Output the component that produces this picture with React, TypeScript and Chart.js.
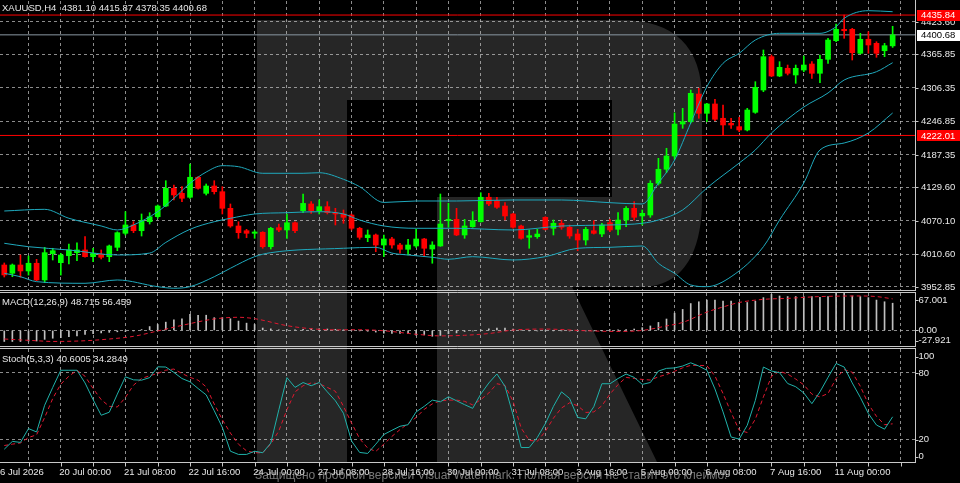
import React, { useEffect, useRef } from 'react';
import { Chart, registerables } from 'chart.js';

Chart.register(...registerables);

// XAUUSD H4 candles, one value per bar (bar 0 = 16 Jul 2026 20:00)
const opens = [
  3991.9, 3977.2, 3991.9, 3981.3, 3995.0, 3965.3, 4012.0, 3996.0, 4008.4, 4013.8,
  4018.6, 4006.7, 4011.0, 4006.7, 4023.3, 4048.2, 4063.0, 4052.8, 4068.8, 4077.7,
  4096.7, 4128.1, 4119.2, 4112.2, 4147.7, 4119.2, 4132.2, 4122.1, 4092.6, 4061.2,
  4052.8, 4048.2, 4050.0, 4024.4, 4058.2, 4054.1, 4067.0, 4088.4, 4100.3, 4088.4,
  4095.5, 4084.8, 4082.5, 4080.7, 4057.1, 4040.4, 4045.2, 4027.4, 4038.1, 4027.4,
  4019.8, 4025.7, 4038.1, 4020.3, 4025.7, 4070.6, 4073.0, 4045.2, 4059.9, 4068.8,
  4112.2, 4106.1, 4096.7, 4082.5, 4061.2, 4041.1, 4042.2, 4076.6, 4057.1, 4066.0,
  4058.9, 4047.0, 4036.3, 4052.8, 4047.0, 4067.0, 4055.3, 4071.8, 4092.6, 4079.0,
  4080.7, 4137.0, 4161.9, 4185.5, 4242.3, 4246.4, 4295.6, 4261.3, 4277.9, 4252.5,
  4243.6, 4237.6, 4231.7, 4263.1, 4302.7, 4361.9, 4327.6, 4341.3, 4329.4, 4338.2,
  4348.9, 4332.4, 4357.2, 4390.3, 4410.5, 4410.5, 4367.9, 4392.8, 4385.6, 4372.5, 4381.10,
];
const highs = [
  3995.5, 3993.7, 4009.7, 4007.9, 4002.0, 4023.3, 4021.6, 4012.7, 4029.2, 4031.5,
  4042.2, 4021.6, 4018.6, 4027.4, 4051.0, 4086.6, 4068.8, 4082.5, 4084.8, 4098.5,
  4141.6, 4134.0, 4131.0, 4171.3, 4148.8, 4135.8, 4141.6, 4131.0, 4100.3, 4068.8,
  4055.3, 4052.8, 4051.0, 4058.9, 4064.7, 4082.5, 4068.8, 4118.0, 4104.4, 4107.4,
  4104.4, 4092.6, 4089.6, 4082.5, 4058.9, 4054.1, 4047.0, 4045.2, 4041.1, 4030.4,
  4037.6, 4055.3, 4039.3, 4033.3, 4118.0, 4101.5, 4092.6, 4073.0, 4086.6, 4120.3,
  4119.3, 4112.2, 4102.6, 4083.7, 4063.0, 4054.1, 4055.3, 4077.7, 4071.8, 4071.8,
  4063.0, 4055.3, 4058.9, 4070.6, 4066.0, 4073.0, 4084.8, 4095.5, 4104.4, 4089.6,
  4141.6, 4181.4, 4199.2, 4262.0, 4270.2, 4302.7, 4305.7, 4279.1, 4286.2, 4276.0,
  4252.5, 4254.2, 4270.2, 4317.5, 4373.8, 4364.9, 4353.0, 4347.1, 4347.1, 4363.0,
  4353.0, 4364.9, 4394.5, 4419.9, 4435.84, 4412.3, 4403.4, 4406.3, 4388.5, 4385.6, 4415.87,
];
const lows = [
  3970.6, 3971.1, 3970.1, 3974.0, 3964.0, 3960.5, 4000.8, 3974.0, 3993.7, 3999.6,
  4005.6, 3997.8, 4002.6, 3997.8, 4017.3, 4045.2, 4049.3, 4043.4, 4064.7, 4074.9,
  4095.4, 4107.4, 4104.4, 4110.0, 4126.4, 4116.2, 4118.0, 4082.5, 4058.9, 4039.3,
  4040.4, 4039.3, 4021.6, 4020.3, 4051.0, 4039.3, 4049.3, 4084.8, 4083.7, 4082.5,
  4082.5, 4063.0, 4066.0, 4054.1, 4037.6, 4033.3, 4015.5, 4006.7, 4021.6, 4012.7,
  4009.7, 4023.3, 4007.9, 3995.0, 4025.0, 4058.9, 4044.0, 4039.3, 4058.9, 4068.0,
  4097.2, 4092.6, 4071.8, 4057.1, 4037.6, 4021.6, 4039.3, 4054.1, 4045.2, 4055.3,
  4039.3, 4017.3, 4027.4, 4046.9, 4042.2, 4051.0, 4045.2, 4059.9, 4071.8, 4063.0,
  4076.6, 4134.0, 4155.8, 4180.0, 4234.7, 4244.0, 4252.5, 4246.4, 4248.2, 4222.01,
  4234.7, 4228.7, 4230.0, 4261.3, 4299.7, 4326.4, 4326.4, 4329.4, 4314.6, 4335.2,
  4323.5, 4315.7, 4350.1, 4388.5, 4394.5, 4356.0, 4366.7, 4367.9, 4360.8, 4361.9, 4378.35,
];
const closes = [
  3974.2, 3991.9, 3981.3, 3995.0, 3965.3, 4013.8, 4017.3, 4009.7, 4018.6, 4018.6,
  4006.7, 4012.7, 4005.6, 4025.7, 4049.3, 4063.0, 4052.8, 4070.6, 4077.7, 4096.7,
  4128.1, 4116.3, 4110.4, 4147.7, 4128.1, 4132.2, 4122.1, 4092.6, 4061.2, 4049.3,
  4048.2, 4050.5, 4024.4, 4057.1, 4054.1, 4067.0, 4052.8, 4101.3, 4088.4, 4095.5,
  4084.8, 4082.5, 4076.6, 4057.1, 4041.1, 4045.2, 4027.4, 4038.1, 4027.4, 4019.8,
  4027.4, 4038.1, 4021.6, 4027.4, 4064.7, 4073.0, 4045.2, 4061.2, 4070.6, 4112.2,
  4100.3, 4094.4, 4079.0, 4058.9, 4039.3, 4044.0, 4046.9, 4055.3, 4066.0, 4058.9,
  4043.4, 4036.3, 4055.3, 4048.2, 4063.0, 4054.1, 4071.8, 4092.6, 4076.6, 4083.7,
  4137.0, 4161.9, 4185.5, 4242.3, 4246.4, 4296.8, 4261.3, 4277.9, 4250.7, 4240.6,
  4240.6, 4231.7, 4267.2, 4307.5, 4361.9, 4327.6, 4343.0, 4332.4, 4341.3, 4347.1,
  4332.4, 4357.2, 4391.5, 4410.5, 4408.0, 4369.0, 4392.8, 4382.7, 4367.9, 4381.4, 4400.68,
];

// Bollinger bands, read at the listed bar positions
const upperIdx = [0, 5, 8, 12, 14, 16, 19, 21, 23, 25, 27, 29, 32, 37, 39, 42, 44, 47, 51, 56, 63, 69, 75, 79, 81, 83, 85, 87, 89, 91, 93, 96, 99, 101, 103, 104, 107, 110];
const upperBand = [4087.8, 4090.8, 4074.9, 4061.2, 4054.1, 4063.0, 4086.6, 4110.4, 4137.0, 4157.0, 4168.3, 4166.5, 4154.8, 4154.8, 4155.8, 4144.1, 4131.0, 4103.0, 4105.6, 4105.6, 4107.4, 4107.4, 4102.6, 4100.3, 4137.6, 4178.4, 4244.1, 4308.6, 4350.1, 4367.9, 4391.5, 4403.4, 4403.4, 4403.4, 4415.2, 4430.1, 4443.6, 4441.8];
const middleIdx = [0, 3, 8, 14, 18, 20, 23, 26, 28, 31, 35, 39, 42, 44, 47, 51, 56, 63, 69, 75, 79, 81, 84, 87, 91, 93, 95, 99, 102, 104, 108, 110];
const middleBand = [4030.5, 4024.4, 4018.6, 4009.7, 4013.0, 4032.0, 4055.3, 4068.8, 4074.8, 4082.5, 4084.8, 4086.6, 4082.5, 4071.8, 4061.2, 4057.1, 4057.1, 4054.1, 4061.2, 4063.0, 4066.0, 4071.8, 4089.6, 4128.7, 4173.0, 4196.2, 4226.4, 4272.5, 4297.4, 4320.5, 4335.2, 4351.2];
const lowerIdx = [0, 2, 4, 10, 14, 19, 21, 23, 26, 28, 31, 33, 42, 46, 48, 50, 53, 55, 58, 63, 67, 71, 75, 79, 81, 83, 85, 87, 90, 94, 96, 99, 101, 104, 107, 110];
const lowerBand = [3977.2, 3971.1, 3962.3, 3959.4, 3965.3, 3953.4, 3950.6, 3953.4, 3971.1, 3986.1, 4006.7, 4013.8, 4021.6, 4023.3, 4013.0, 4009.7, 4005.6, 4002.1, 4006.7, 4000.8, 4006.7, 4021.6, 4023.3, 4025.7, 3994.9, 3977.2, 3956.4, 3953.4, 3971.1, 4024.4, 4071.8, 4137.6, 4196.2, 4208.6, 4226.4, 4261.9];

// MACD(12,26,9): main per bar, signal at listed bars
const macdMain = [
  -19.8, -19.8, -19.8, -19, -19, -16, -14, -13, -11, -10,
  -7, -6, -4.5, -3.5, -2.5, -2, -1, 1.5, 6.9, 10.6,
  14.8, 19, 20.9, 29, 27.2, 27.2, 22.8, 22.8, 20.9, 16.7,
  13, 10.6, 4.3, 2.8, 1, 1.5, 1, 2, 3, 3,
  2.5, 2, 1, 0.3, -0.5, -1.5, -3, -5, -5.5, -5.5,
  -6, -8.6, -8, -10.5, -9, -6, -4.5, -2, -1, 1,
  3, 4, 4, 2.5, 0.5, -0.5, -1, -0.5, -0.5, -0.5,
  -1, -1.5, -1, -1, -0.5, 0.3, 0.5, 1.5, 2.5, 5,
  8, 14.3, 20.4, 30.9, 37.6, 48.1, 51.3, 54.3, 54.3, 52.4,
  52.4, 50, 50, 52.4, 58.7, 64.5, 61.7, 60.6, 60.6, 60.6,
  60.6, 59.3, 60.6, 66.2, 67.0, 61.7, 60.6, 58.7, 54.3, 51.3, 48.715,
];
const macdSignalIdx = [0, 4, 6, 10, 13, 16, 19, 22, 26, 29, 31, 35, 38, 41, 44, 47, 51, 54, 57, 60, 63, 67, 72, 76, 79, 82, 84, 87, 89, 91, 94, 97, 101, 106, 108, 110];
const macdSignal = [-15.4, -18.5, -19.8, -18.5, -15.4, -10.6, -1, 9, 20.5, 23.5, 21, 8.5, 3, 1, 1.2, -0.6, -6.9, -9.8, -8.7, -5.6, 0.6, 2.4, -0.6, -1.9, 0, 8, 14.3, 32.8, 42, 50, 55.6, 57.4, 60.6, 61.7, 60.6, 56.459];

// Stochastic(5,3,3) per bar
const stochMain = [
  11.5, 18.5, 17.6, 30, 27, 51, 67, 82.4, 82.4, 82.4,
  71, 56, 42, 44.7, 61, 76.5, 73.8, 73.5, 75.8, 85.5,
  85.3, 80.5, 75, 72, 66, 60.3, 46, 31, 9.7, 6.8,
  6.8, 9.7, 8.3, 17, 47, 75.8, 67, 71.4, 68.5, 71.4,
  63, 55, 43.8, 18.9, 8.6, 7.7, 16, 24.7, 28.5, 32.1,
  33.5, 45, 50, 55.6, 54.1, 58.6, 55, 51.5, 48.2, 61,
  71, 79.1, 68, 42.3, 13, 13, 22, 34.5, 50, 63,
  57.1, 40, 38.8, 49.7, 70.3, 70.3, 75, 79, 76, 69.7,
  71.4, 81.7, 84.1, 84.5, 86.2, 89.1, 86.2, 82.4, 65.6, 45,
  22.4, 20.6, 33, 55.3, 85.3, 81.7, 80.2, 70.5, 67.6, 62,
  52.4, 63, 76, 88.5, 85.3, 71, 58, 43.5, 33.2, 29.5, 40.6005,
];
const stochSignal = [
  14.8, 16, 17.1, 22, 24.4, 40, 57, 70, 77, 82.4,
  77, 66, 56, 50, 49.4, 58, 69, 75, 77.5, 79.5,
  82.5, 83.5, 79.5, 76, 73.5, 67.5, 52, 38, 26, 16,
  10, 8.3, 8.3, 16, 28, 47, 63, 68.5, 71, 70.3,
  67, 63.5, 50, 35, 21, 12.5, 9.5, 16, 23, 29.1,
  34.5, 40, 47.3, 52.2, 55, 55.6, 55.6, 54.5, 51.3, 56,
  62, 70.3, 68.8, 54.5, 30.5, 19.5, 18.5, 27.5, 39.4, 48.5,
  53.2, 50.5, 44.5, 45, 50.5, 61, 69.5, 76, 75, 74.2,
  73.6, 76.5, 78.6, 81.5, 84.6, 86.8, 86.8, 86.5, 77.3, 61.5,
  44.5, 28.5, 26.5, 38.5, 58.5, 77, 81.5, 79, 74.5, 69.3,
  61, 58.5, 61.5, 75, 83, 80.6, 68, 52, 41, 33.5, 34.2849,
];

const priceTicks = [4423.6, 4365.85, 4306.35, 4246.85, 4187.35, 4129.6, 4070.1, 4010.6, 3952.85];
const redLevels = [4435.84, 4222.01];
const bidLevel = 4400.68;
const macdTicks = [0];
const macdLabelValues = [67.001, 0, -27.921];
const macdLabelTexts = ['67.001', '0.00', '-27.921'];
const stochTicks = [20, 80];
const stochLabelValues = [100, 80, 20, 0];
const gridBars = [-1, 3, 7, 11, 15, 19, 23, 27, 31, 35, 39, 43, 47, 51, 55, 59, 63, 67, 71, 75, 79, 83, 87, 91, 95, 99, 103, 107, 111];
const timeBars = [-1, 7, 15, 23, 31, 39, 47, 55, 63, 71, 79, 87, 95, 103];
const timeLabels = ['16 Jul 2026', '20 Jul 00:00', '21 Jul 08:00', '22 Jul 16:00', '24 Jul 00:00', '27 Jul 08:00', '28 Jul 16:00', '30 Jul 00:00', '31 Jul 08:00', '3 Aug 16:00', '5 Aug 00:00', '6 Aug 08:00', '7 Aug 16:00', '11 Aug 00:00'];

const FONT = '9.5px "Liberation Sans", Arial, sans-serif';
const GRID = 'rgba(200,200,200,0.7)';
const FRAME = '#c8c8c8';
const TEXT = '#e8e8e8';
const BULL = '#00ff00';
const BEAR = '#ff0000';
const BAND = '#1fa9bd';
const STOCH = '#20b2aa';
const DOTTED = '#e01830';
const X_MIN = -0.53;
const X_MAX = 112.77;
const last = closes.length - 1;

const xScale = () => ({
  type: 'linear',
  min: X_MIN,
  max: X_MAX,
  offset: false,
  afterBuildTicks: (s: any) => { s.ticks = gridBars.map((v) => ({ value: v })); },
  afterFit: (s: any) => { s.height = 0; },
  ticks: { display: false },
  grid: { color: GRID, drawTicks: false, offset: false },
  border: { display: false, dash: [3, 3] },
});

const yScale = (min: number, max: number, ticks: number[]) => ({
  type: 'linear',
  position: 'right',
  min,
  max,
  afterBuildTicks: (s: any) => { s.ticks = ticks.map((v) => ({ value: v })); },
  afterFit: (s: any) => { s.width = 45; },
  ticks: { display: false },
  grid: { color: GRID, drawTicks: false },
  border: { display: false, dash: [3, 3] },
});

const points = (ix: number[], vals: number[]) => ix.map((x, k) => ({ x, y: vals[k] }));
const perBar = (vals: number[]) => vals.map((y, x) => ({ x, y }));
const hline = (v: number, color: string) => ({
  type: 'line', data: [{ x: X_MIN, y: v }, { x: X_MAX, y: v }],
  borderColor: color, borderWidth: 1, pointRadius: 0, order: 3,
});

// MT4-like frame, scale labels, header and time axis
const panelPlugin = (d: any) => ({
  id: 'mtPanel',
  afterDraw(chart: any) {
    const { ctx, chartArea: a } = chart;
    const ys = chart.scales.y;
    const xs = chart.scales.x;
    const right = Math.round(a.right) + 0.5;
    const by = Math.round(a.bottom) + 0.5;
    ctx.save();
    ctx.lineWidth = 1;
    ctx.strokeStyle = FRAME;
    ctx.beginPath();
    ctx.moveTo(right, d.fromTop ? 0 : a.top - 1);
    ctx.lineTo(right, a.bottom + 1);
    if (d.topLine) { ctx.moveTo(0, a.top - 0.5); ctx.lineTo(right, a.top - 0.5); }
    ctx.moveTo(0, by); ctx.lineTo(right, by);
    ctx.stroke();

    ctx.font = FONT;
    ctx.textBaseline = 'middle';
    ctx.textAlign = 'left';
    d.labels.forEach((l: any) => {
      const py = Math.min(Math.max(ys.getPixelForValue(l.v), a.top + d.clampTop), a.bottom - d.clampBottom);
      ctx.beginPath();
      ctx.moveTo(right, Math.round(py) + 0.5); ctx.lineTo(right + 3, Math.round(py) + 0.5);
      ctx.stroke();
      ctx.fillStyle = TEXT;
      ctx.fillText(l.text, a.right + d.labelDx, py);
    });
    (d.markers || []).forEach((m: any) => {
      const py = ys.getPixelForValue(m.v);
      ctx.fillStyle = m.bg;
      ctx.fillRect(a.right + 2, Math.round(py) - 5, 43, 11);
      ctx.fillStyle = m.fg;
      ctx.fillText(m.v.toFixed(2), a.right + d.labelDx, py + 0.5);
    });
    ctx.fillStyle = TEXT;
    ctx.fillText(d.header, 2, a.top + d.headerDy);

    if (d.timeAxis) {
      ctx.strokeStyle = FRAME;
      ctx.beginPath();
      gridBars.forEach((b) => {
        const px = Math.round(xs.getPixelForValue(b)) + 0.5;
        ctx.moveTo(px, by); ctx.lineTo(px, by + 4);
      });
      ctx.stroke();
      ctx.fillStyle = TEXT;
      timeBars.forEach((b, k) => ctx.fillText(timeLabels[k], xs.getPixelForValue(b) - 1.5, a.bottom + 10.5));
    }
    ctx.restore();
  },
});

const baseOptions = (padTop: number, padBottom: number, y: any) => ({
  responsive: false,
  animation: false,
  events: [],
  layout: { padding: { top: padTop, bottom: padBottom, left: 0, right: 0 } },
  plugins: { legend: { display: false }, tooltip: { enabled: false } },
  scales: { x: xScale(), y },
});

const mainConfig = (): any => {
  const colors = closes.map((c, i) => (c >= opens[i] ? BULL : BEAR));
  const header = `XAUUSD,H4  ${[opens, highs, lows, closes].map((s) => s[last].toFixed(2)).join(' ')}`;
  return {
    type: 'line',
    data: {
      datasets: [
        { type: 'line', data: points(upperIdx, upperBand), borderColor: BAND, borderWidth: 1, pointRadius: 0, cubicInterpolationMode: 'monotone', order: 0 },
        { type: 'line', data: points(middleIdx, middleBand), borderColor: BAND, borderWidth: 1, pointRadius: 0, cubicInterpolationMode: 'monotone', order: 0 },
        { type: 'line', data: points(lowerIdx, lowerBand), borderColor: BAND, borderWidth: 1, pointRadius: 0, cubicInterpolationMode: 'monotone', order: 0 },
        { type: 'bar', data: opens.map((o, i) => ({ x: i, y: [o, closes[i]] })), backgroundColor: colors, barThickness: 5, grouped: false, borderWidth: 0, order: 1 },
        { type: 'bar', data: lows.map((l, i) => ({ x: i, y: [l, highs[i]] })), backgroundColor: colors, barThickness: 1, grouped: false, borderWidth: 0, order: 2 },
        ...redLevels.map((v) => hline(v, '#ff0000')),
        hline(bidLevel, '#8a97a3'),
      ],
    },
    options: baseOptions(1, 1, yScale(3947.5, 4460.8, priceTicks)),
    plugins: [panelPlugin({
      header, headerDy: 7, fromTop: true, topLine: false, clampTop: 6, clampBottom: 3, labelDx: 6,
      labels: priceTicks.map((v) => ({ v, text: v.toFixed(2) })),
      markers: [
        { v: redLevels[0], bg: '#ff0000', fg: '#ffffff' },
        { v: bidLevel, bg: '#ffffff', fg: '#000000' },
        { v: redLevels[1], bg: '#ff0000', fg: '#ffffff' },
      ],
    })],
  };
};

const macdConfig = (): any => ({
  type: 'line',
  data: {
    datasets: [
      { type: 'line', data: points(macdSignalIdx, macdSignal), borderColor: DOTTED, borderWidth: 1, borderDash: [4, 3], pointRadius: 0, cubicInterpolationMode: 'monotone', order: 0 },
      { type: 'bar', data: perBar(macdMain), backgroundColor: '#c0c0c0', barThickness: 1, grouped: false, borderWidth: 0, order: 1 },
    ],
  },
  options: baseOptions(2, 1, yScale(-27.921, 67.001, macdTicks)),
  plugins: [panelPlugin({
    header: `MACD(12,26,9) ${macdMain[last].toFixed(3)} ${macdSignal[macdSignal.length - 1].toFixed(3)}`,
    headerDy: 9.5, topLine: true, clampTop: 7, clampBottom: 5.3, labelDx: 3.5,
    labels: macdLabelValues.map((v, k) => ({ v, text: macdLabelTexts[k] })),
  })],
});

const stochConfig = (): any => ({
  type: 'line',
  data: {
    datasets: [
      { type: 'line', data: perBar(stochSignal), borderColor: DOTTED, borderWidth: 1, borderDash: [4, 3], pointRadius: 0, order: 1 },
      { type: 'line', data: perBar(stochMain), borderColor: STOCH, borderWidth: 1, pointRadius: 0, order: 0 },
    ],
  },
  options: baseOptions(2, 21, yScale(0, 101.5, stochTicks)),
  plugins: [panelPlugin({
    header: `Stoch(5,3,3) ${stochMain[last].toFixed(4)} ${stochSignal[last].toFixed(4)}`,
    headerDy: 10, topLine: true, clampTop: 7.7, clampBottom: 5.3, labelDx: 3.5, timeAxis: true,
    labels: stochLabelValues.map((v) => ({ v, text: String(v) })),
  })],
});

export default function App() {
  const mainRef = useRef<HTMLCanvasElement | null>(null);
  const macdRef = useRef<HTMLCanvasElement | null>(null);
  const stochRef = useRef<HTMLCanvasElement | null>(null);

  useEffect(() => {
    const charts: Chart[] = [];
    if (mainRef.current) charts.push(new Chart(mainRef.current, mainConfig()));
    if (macdRef.current) charts.push(new Chart(macdRef.current, macdConfig()));
    if (stochRef.current) charts.push(new Chart(stochRef.current, stochConfig()));
    return () => charts.forEach((c) => c.destroy());
  }, []);

  const abs = (top: number) => ({ position: 'absolute' as const, left: 0, top });

  return (
    <div style={{ position: 'absolute', left: 0, top: 0, width: 960, height: 483, background: '#000', overflow: 'hidden' }}>
      <svg width={960} height={483} style={abs(0)}>
        <path
          d="M257,20 H620 Q702,20 702,100 V200 C702,250 685,287 640,287 H572 L657,462 H437 V197 H612 V100 H347 V462 H257 Z"
          fill="#262626"
        />
      </svg>
      <canvas ref={mainRef} width={960} height={291} style={abs(0)} />
      <canvas ref={macdRef} width={960} height={56} style={abs(291)} />
      <canvas ref={stochRef} width={960} height={136} style={abs(347)} />
      <div
        style={{
          position: 'absolute', left: 255, top: 468, whiteSpace: 'nowrap',
          font: '12px "Liberation Sans", Arial, sans-serif', color: 'rgba(190,190,190,0.62)',
        }}
      >
        Защищено пробной версией Visual Watermark. Полная версия не ставит это клеймо.
      </div>
    </div>
  );
}
